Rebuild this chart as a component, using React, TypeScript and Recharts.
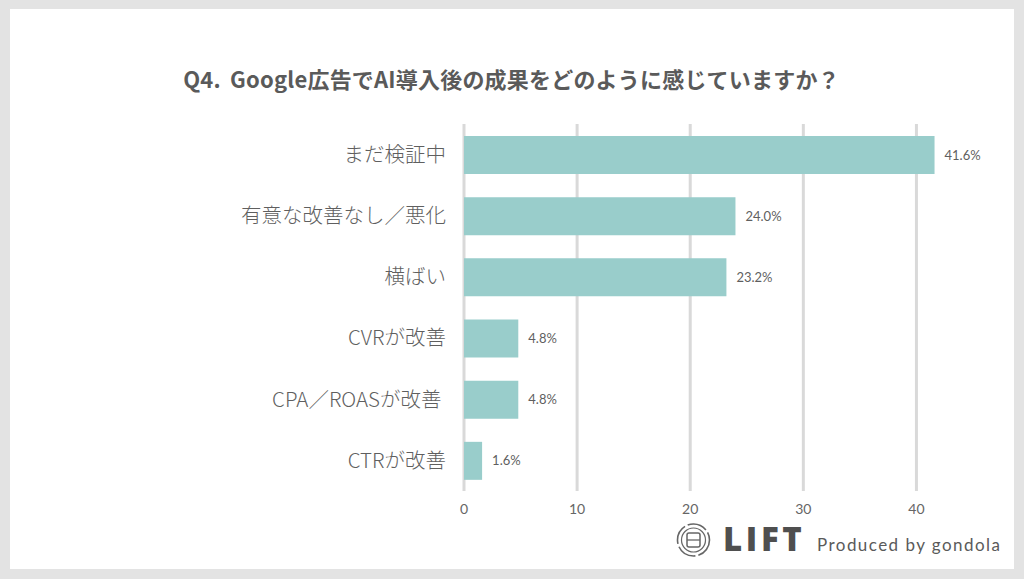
import { Bar, BarChart, CartesianGrid, LabelList, XAxis, YAxis } from "recharts";

const CATEGORIES = ["まだ検証中", "有意な改善なし／悪化", "横ばい", "CVRが改善", "CPA／ROASが改善\u00a0", "CTRが改善"];
const VALUES = [41.6, 24.0, 23.2, 4.8, 4.8, 1.6];
const X_TICKS = [0, 10, 20, 30, 40];
const TITLE = "Q4. Google広告でAI導入後の成果をどのように感じていますか？";

const JP_FONT = '"Noto Sans CJK JP", "Noto Sans", sans-serif';
const NUM_FONT = 'Lato, "Open Sans", sans-serif';

const data = CATEGORIES.map((category, i) => ({ category, value: VALUES[i] }));

function Logo() {
  return (
    <svg width={340} height={50} style={{ position: "absolute", left: 670, top: 515 }}>
      <g fill="none" stroke="#666">
        <circle cx={23.5} cy={25} r={16} strokeWidth={1.6} strokeDasharray="20 3" />
        <circle cx={23.5} cy={25} r={12} strokeWidth={1.2} />
        <rect x={17} y={18} width={13} height={14} rx={2} strokeWidth={1.5} />
        <path d="M17 25 H30" strokeWidth={1.3} />
      </g>
      <text x={53} y={36} fontFamily='"Open Sans", sans-serif' fontWeight={800} fontSize={33} letterSpacing={3.6} fill="#4f4f4f">
        LIFT
      </text>
      <text x={147} y={36} fontFamily="Lato, sans-serif" fontSize={17} letterSpacing={1.45} fill="#5a5a5a">
        Produced by gondola
      </text>
    </svg>
  );
}

export default function App() {
  return (
    <div style={{ position: "absolute", left: 0, top: 0, width: 1024, height: 579, background: "#e3e3e3", overflow: "hidden" }}>
      <div style={{ position: "absolute", left: 10, top: 9, width: 1004, height: 560, background: "#ffffff" }} />
      <div
        style={{
          position: "absolute",
          left: 0,
          top: 62,
          width: 1023,
          textAlign: "center",
          fontFamily: JP_FONT,
          fontWeight: 700,
          fontSize: 22,
          letterSpacing: 0.2,
          wordSpacing: 4,
          lineHeight: "32px",
          color: "#5a5a5a",
        }}
      >
        {TITLE}
      </div>
      <div style={{ position: "absolute", left: 0, top: 0 }}>
        <BarChart
          width={1024}
          height={579}
          data={data}
          layout="vertical"
          barSize={38}
          margin={{ top: 124, right: 51, left: 0, bottom: 58 }}
        >
          <CartesianGrid stroke="#d9d9d9" strokeWidth={3} horizontal={false} syncWithTicks />
          <XAxis
            type="number"
            domain={[0, 45]}
            ticks={X_TICKS}
            height={30}
            axisLine={false}
            tickLine={false}
            tickSize={0}
            tickMargin={13}
            tick={{ fontSize: 14, fill: "#666666", fontFamily: NUM_FONT }}
          />
          <YAxis
            type="category"
            dataKey="category"
            width={464}
            axisLine={false}
            tickLine={false}
            tickSize={0}
            tickMargin={18}
            interval={0}
            tick={{ fontSize: 20.5, fill: "#5f5f5f", fontFamily: JP_FONT, fontWeight: 300 }}
          />
          <Bar dataKey="value" fill="#99cdcb" isAnimationActive={false}>
            <LabelList
              dataKey="value"
              position="right"
              offset={10}
              formatter={(v: number) => `${v.toFixed(1)}%`}
              style={{ fontSize: 13, fill: "#5f5f5f", fontFamily: NUM_FONT }}
            />
          </Bar>
        </BarChart>
      </div>
      <Logo />
    </div>
  );
}
